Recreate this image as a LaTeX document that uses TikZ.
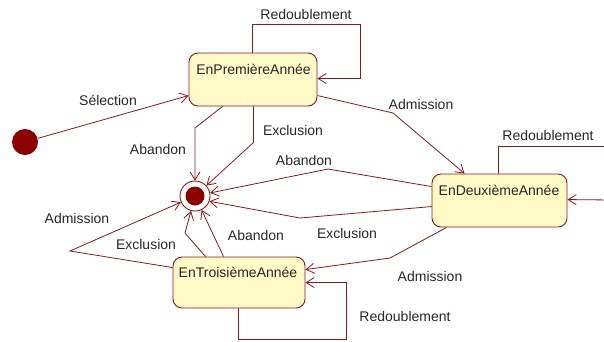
\documentclass[tikz,border=0pt]{standalone}
\usepackage{fontspec}
\setmainfont{Liberation Sans}
\usetikzlibrary{arrows.meta,calc}
\definecolor{edge}{RGB}{135,25,25}
\definecolor{statefill}{RGB}{255,250,200}
\definecolor{dot}{RGB}{140,0,0}
\begin{document}
\begin{tikzpicture}[x=1pt,y=-1pt,
  every node/.style={font=\fontsize{14}{16}\selectfont, text=black!85},
  statebox/.style={draw=edge, line width=0.9pt, fill=statefill, rounded corners=9pt, inner sep=0pt},
  tr/.style={draw=edge, line width=0.8pt, -{Straight Barb[length=8pt,width=10pt]}},
  lbl/.style={inner sep=0pt}
]
\useasboundingbox (0,0) rectangle (604,341);

% states
\node[circle, fill=dot, minimum size=26pt, inner sep=0pt] (init) at (25,142) {};
\node[circle, draw=edge, line width=0.9pt, fill=white, minimum size=30pt, inner sep=0pt] (fin) at (195,196) {};
\node[circle, fill=dot, minimum size=19pt, inner sep=0pt] (fincore) at (fin) {};

\node[statebox, minimum width=128pt, minimum height=53pt] (p) at (253,79.5) {};
\node[lbl] (ptext) at (253.5,69) {EnPremièreAnnée};
\node[statebox, minimum width=135pt, minimum height=53pt] (d) at (499.5,200.5) {};
\node[lbl] (dtext) at (499,190) {EnDeuxièmeAnnée};
\node[statebox, minimum width=132pt, minimum height=51pt] (t) at (239,282.5) {};
\node[lbl] (ttext) at (238,272) {EnTroisièmeAnnée};

% transitions
\draw[tr] (init) -- ($(p.north west)+(0,43)$);
\draw[tr] ($(p.north west)+(64,0)$) -- ++(0,-28) -| ($(p.north east)+(43,26)$) -- ($(p.north east)+(0,26)$);
\draw[tr] ($(p.north east)+(0,43)$) -- (393,113) -- ($(d.north west)+(33,0)$);
\draw[tr] ($(p.south west)+(34,0)$) -- (195,128) -- (fin);
\draw[tr] ($(p.south west)+(65,0)$) -- ++(0,36) -- (fin);

\draw[tr] ($(d.north west)+(0,13)$) -- (328,169) -- (fin);
\draw[tr] ($(d.north west)+(0,33)$) -- (300,218) -- (fin.-20);
\draw[tr] ($(d.north west)+(67,0)$) -- ++(0,-27) -| (612,200) -- ($(d.north east)+(0,26)$);
\draw[tr] ($(d.south west)+(15,0)$) -- (390,258) -- ($(t.north east)+(0,13)$);

\draw[tr] ($(t.north west)+(0,11)$) -- (70,251) -- (fin);
\draw[tr] ($(t.north west)+(33,0)$) -- (185,233) -- (fin.-105);
\draw[tr] ($(t.north west)+(51,0)$) -- (fin);
\draw[tr] ($(t.south west)+(66,0)$) -- ++(0,31) -| ($(t.north east)+(41,26)$) -- ($(t.north east)+(0,26)$);

% labels
\node[lbl] (l1) at (306,14) {Redoublement};
\node[lbl] (l2) at (108,100) {Sélection};
\node[lbl] (l3) at (421,104) {Admission};
\node[lbl] (l4) at (158,149) {Abandon};
\node[lbl] (l5) at (293,130) {Exclusion};
\node[lbl] (l6) at (304,160) {Abandon};
\node[lbl] (l7) at (548,135) {Redoublement};
\node[lbl] (l8) at (347,233) {Exclusion};
\node[lbl] (l9) at (77,218) {Admission};
\node[lbl] (l10) at (146,244) {Exclusion};
\node[lbl] (l11) at (256,235) {Abandon};
\node[lbl] (l12) at (430,276) {Admission};
\node[lbl] (l13) at (405,316) {Redoublement};
\end{tikzpicture}
\end{document}
